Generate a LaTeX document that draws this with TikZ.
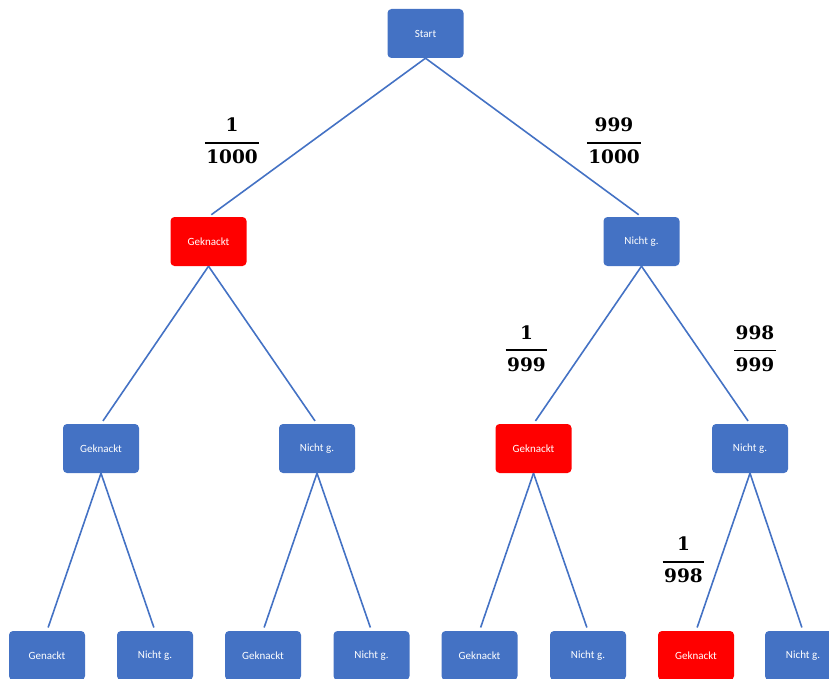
\documentclass[tikz,border=0pt]{standalone}
\usepackage{fontspec}
\usepackage{xcolor}
\setmainfont{Carlito}
\newfontfamily\probfont{DejaVu Serif}
\definecolor{boxblue}{HTML}{4472C4}
\definecolor{boxred}{HTML}{FF0000}
% bold fraction label
\newcommand\prob[2]{{\probfont\bfseries\fontsize{18.5}{18.5}\selectfont\vbox{\halign{\hfil##\hfil\cr#1\cr\noalign{\vskip10pt\hrule height1.8pt\vskip6pt}\kern1.5pt#2\kern1.5pt\cr}}}}

\begin{document}
\begin{tikzpicture}[x=1pt,y=-1pt,
    box/.style={rectangle, rounded corners=4pt, fill=boxblue, text=white,
        minimum width=76pt, minimum height=49pt, inner sep=0pt,
        font=\fontsize{11}{13}\selectfont},
    hit/.style={box, fill=boxred},
    edge/.style={draw=boxblue, line width=1.6pt, shorten >=3.5pt},
    prob/.style={inner sep=0pt}]
\useasboundingbox (0,0) rectangle (829,679);

                    % Nodes
                    \node[box] (1) at (425.5, 33.5) {Start};
                    \node[hit] (2) at (208.5, 241.5) {Geknackt};
                    \node[box] (3) at (641.5, 241.5) {Nicht g.};
                    \node[box] (4) at (101, 448.5) {Geknackt};
                    \node[box] (5) at (317, 448.5) {Nicht g.};
                    \node[hit] (6) at (533.5, 448.5) {Geknackt};
                    \node[box] (7) at (750, 448.5) {Nicht g.};
                    \node[box] (8) at (47, 655.5) {Genackt};
                    \node[box] (9) at (155, 655.5) {Nicht g.};
                    \node[box] (10) at (263, 655.5) {Geknackt};
                    \node[box] (11) at (371.5, 655.5) {Nicht g.};
                    \node[box] (12) at (479.5, 655.5) {Geknackt};
                    \node[box] (13) at (588, 655.5) {Nicht g.};
                    \node[hit] (14) at (696, 655.5) {Geknackt};
                    \node[box] (15) at (803, 655.5) {Nicht g.};

                    % Edges
                    \draw[edge] (1.south) -- (2.north);
                    \draw[edge] (1.south) -- (3.north);
                    \draw[edge] (2.south) -- (4.north);
                    \draw[edge] (2.south) -- (5.north);
                    \draw[edge] (3.south) -- (6.north);
                    \draw[edge] (3.south) -- (7.north);
                    \draw[edge] (4.south) -- (8.north);
                    \draw[edge] (4.south) -- (9.north);
                    \draw[edge] (5.south) -- (10.north);
                    \draw[edge] (5.south) -- (11.north);
                    \draw[edge] (6.south) -- (12.north);
                    \draw[edge] (6.south) -- (13.north);
                    \draw[edge] (7.south) -- (14.north);
                    \draw[edge] (7.south) -- (15.north);

                    % Probabilities
                    \node[prob] (p12) at (232, 141) {\prob{1}{1000}};
                    \node[prob] (p13) at (614, 141) {\prob{999}{1000}};
                    \node[prob] (p36) at (526.5, 348.5) {\prob{1}{999}};
                    \node[prob] (p37) at (755, 348.5) {\prob{998}{999}};
                    \node[prob] (p714) at (683.5, 560) {\prob{1}{998}};

\end{tikzpicture}
\end{document}
